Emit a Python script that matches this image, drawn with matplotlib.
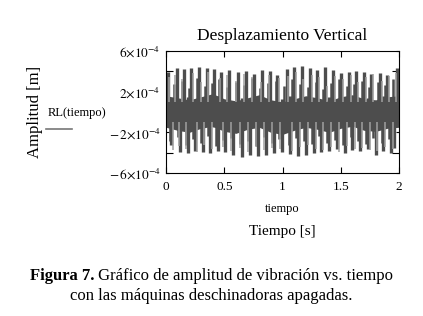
import numpy as np
import matplotlib
matplotlib.use("Agg")
import matplotlib.pyplot as plt

plt.rcParams["font.family"] = ["Liberation Serif", "DejaVu Serif"]
plt.rcParams["mathtext.fontset"] = "stix"

# main spikes (time [s], amplitude in 1e-4 m)
up_t = [0.017, 0.092, 0.155, 0.215, 0.283, 0.349, 0.412, 0.475, 0.541, 0.618,
        0.687, 0.753, 0.827, 0.896, 0.953, 1.036, 1.099, 1.165, 1.236, 1.299,
        1.365, 1.436, 1.505, 1.568, 1.633, 1.700, 1.762, 1.834, 1.899, 1.985]
up_v = [3.9, 4.3, 4.2, 4.3, 4.4, 4.3, 4.2, 3.9, 4.1, 3.9,
        4.0, 3.7, 4.1, 4.0, 3.6, 4.2, 4.4, 4.5, 4.3, 4.1,
        4.4, 4.1, 3.8, 3.9, 4.0, 3.9, 3.7, 3.8, 3.6, 4.3]
up_base = [-1.0, -1.4, -0.8, -1.6, -1.1, -0.9, -1.5, -1.2, -0.7, -1.3,
           -1.6, -1.0, -0.9, -1.4, -1.2, -0.8, -1.5, -1.1, -1.3, -0.9,
           -1.0, -1.6, -1.2, -0.8, -1.4, -1.1, -1.5, -0.9, -1.3, -1.0]
dn_t = [0.045, 0.122, 0.186, 0.248, 0.314, 0.380, 0.443, 0.508, 0.578, 0.652,
        0.720, 0.790, 0.860, 0.925, 0.995, 1.068, 1.132, 1.200, 1.268, 1.332,
        1.400, 1.470, 1.536, 1.600, 1.666, 1.731, 1.798, 1.866, 1.928, 1.960]
dn_v = [-3.2, -3.9, -4.0, -3.8, -3.9, -4.0, -3.8, -3.9, -4.2, -4.4,
        -4.2, -4.3, -4.2, -4.0, -3.9, -4.1, -4.3, -4.2, -4.0, -3.9,
        -3.8, -3.6, -4.0, -3.7, -3.8, -3.6, -4.2, -3.8, -4.0, -3.5]
dn_top = [1.2, 0.8, 1.5, 1.0, 1.3, 0.9, 1.6, 1.1, 0.8, 1.4,
          1.0, 1.5, 1.2, 0.9, 1.3, 1.6, 1.0, 0.8, 1.4, 1.1,
          1.5, 0.9, 1.2, 1.3, 0.8, 1.4, 1.0, 1.6, 1.1, 1.2]
# shorter dark strokes in between
mid_up_t = [0.068, 0.138, 0.200, 0.266, 0.331, 0.396, 0.459, 0.524, 0.598, 0.670,
            0.737, 0.808, 0.878, 0.940, 1.015, 1.083, 1.148, 1.218, 1.284, 1.348,
            1.418, 1.488, 1.552, 1.616, 1.683, 1.746, 1.816, 1.882, 1.945]
mid_up_v = [2.8, 3.1, 2.4, 3.3, 2.6, 2.9, 3.2, 2.5, 3.0, 2.7,
            3.3, 2.4, 2.9, 3.1, 2.6, 3.2, 2.8, 2.5, 3.0, 2.3,
            2.9, 3.2, 2.6, 2.8, 3.1, 2.5, 3.0, 2.7, 3.2]
mid_dn_t = [0.031, 0.107, 0.170, 0.231, 0.298, 0.364, 0.427, 0.491, 0.560, 0.635,
            0.703, 0.771, 0.843, 0.910, 0.974, 1.052, 1.115, 1.182, 1.252, 1.315,
            1.382, 1.453, 1.520, 1.584, 1.650, 1.715, 1.780, 1.850, 1.913]
mid_dn_v = [-2.9, -2.5, -3.2, -2.7, -3.0, -2.4, -3.3, -2.8, -2.6, -3.1,
            -2.9, -3.3, -2.5, -3.0, -2.7, -3.2, -2.6, -2.9, -3.1, -2.4,
            -3.0, -2.8, -3.2, -2.5, -2.9, -3.1, -2.6, -3.0, -2.7]
# lighter grey strokes next to the dark ones
lt_up_t = [0.030, 0.080, 0.140, 0.230, 0.300, 0.362, 0.460, 0.525, 0.600, 0.670,
           0.740, 0.812, 0.880, 0.970, 1.050, 1.115, 1.180, 1.250, 1.315, 1.380,
           1.450, 1.520, 1.585, 1.650, 1.715, 1.780, 1.850, 1.915, 1.975]
lt_up_v = [3.4, 3.6, 3.2, 3.8, 3.0, 3.9, 3.3, 3.6, 3.1, 3.7,
           3.4, 3.0, 3.6, 3.3, 3.5, 3.9, 3.2, 3.6, 3.4, 2.6,
           3.5, 3.2, 3.6, 3.0, 3.4, 3.7, 3.1, 3.5, 3.8]
lt_dn_t = [0.060, 0.110, 0.170, 0.262, 0.330, 0.395, 0.492, 0.560, 0.635, 0.705,
           0.775, 0.845, 0.910, 0.980, 1.085, 1.150, 1.215, 1.285, 1.350, 1.415,
           1.485, 1.552, 1.618, 1.682, 1.748, 1.815, 1.882, 1.945]
lt_dn_v = [-3.7, -3.3, -3.6, -3.9, -3.2, -3.6, -3.4, -3.8, -3.5, -3.9,
           -3.3, -3.7, -3.5, -3.6, -3.8, -3.4, -3.2, -3.6, -3.7, -3.4,
           -3.9, -3.3, -3.6, -3.5, -3.7, -3.8, -3.4, -3.6]
# dense central band
core_t = [0.0, 0.1, 0.2, 0.3, 0.4, 0.5, 0.6, 0.7, 0.8, 0.9, 1.0,
          1.1, 1.2, 1.3, 1.4, 1.5, 1.6, 1.7, 1.8, 1.9, 2.0]
core_hi = [1.6, 1.4, 1.2, 1.5, 1.8, 1.3, 1.1, 1.4, 1.7, 1.2, 1.0,
           1.3, 1.6, 1.4, 1.1, 1.5, 1.7, 1.3, 1.2, 1.5, 1.6]
core_lo = [-1.5, -1.8, -2.0, -1.6, -1.4, -1.9, -2.1, -1.7, -1.5, -2.0, -2.2,
           -1.8, -1.5, -1.7, -2.0, -1.6, -1.4, -1.8, -1.9, -1.6, -1.5]

s = 1e-4
dark = "#4d4d4d"
light = "#a0a0a0"

fig = plt.figure(figsize=(4.23, 3.16), dpi=100)
ax = fig.add_axes([0.3924, 0.4525, 0.551, 0.386])

ax.fill_between(core_t, np.array(core_lo) * s, np.array(core_hi) * s, color=dark, lw=0)
ax.vlines(mid_up_t, -0.5 * s, np.array(mid_up_v) * s, color=dark, lw=1.8)
ax.vlines(mid_dn_t, np.array(mid_dn_v) * s, 0.5 * s, color=dark, lw=1.8)
ax.vlines(up_t, np.array(up_base) * s, np.array(up_v) * s, color=dark, lw=2.4)
ax.vlines(dn_t, np.array(dn_v) * s, np.array(dn_top) * s, color=dark, lw=2.4)
ax.vlines(lt_up_t, 1.0 * s, np.array(lt_up_v) * s, color=light, lw=1.1)
ax.vlines(lt_dn_t, np.array(lt_dn_v) * s, -1.0 * s, color=light, lw=1.1)

ax.set_xlim(0, 2)
ax.set_ylim(-6e-4, 6e-4)
ax.set_xticks([0, 0.5, 1, 1.5, 2])
ax.set_xticklabels(["0", "0.5", "1", "1.5", "2"])
ax.set_yticks([-6e-4, -2e-4, 2e-4, 6e-4])
ax.set_yticklabels([r"$-\,6{\times}10^{-4}$", r"$-\,2{\times}10^{-4}$",
                    r"$2{\times}10^{-4}$", r"$6{\times}10^{-4}$"])
ax.tick_params(axis="both", direction="in", labelsize=9.5, top=True, right=True,
               length=4, width=0.8)
ax.tick_params(axis="x", pad=6)
ax.tick_params(axis="y", length=2, pad=4)
ax.set_yticks([-4e-4, 4e-4], minor=True)
ax.tick_params(axis="y", which="minor", direction="in", length=5, width=0.8,
               right=True)
for sp in ax.spines.values():
    sp.set_linewidth(0.8)

ax.set_title("Desplazamiento Vertical", fontsize=12.5, pad=8)
ax.set_xlabel("tiempo", fontsize=9, labelpad=7)

fig.text(0.6678, 0.266, "Tiempo [s]", fontsize=11, ha="center", va="center")
fig.text(0.082, 0.645, "Amplitud [m]", fontsize=12, rotation=90, ha="center", va="center")
fig.text(0.113, 0.642, "RL(tiempo)", fontsize=9, ha="left", va="center")
fig.add_artist(plt.Line2D([0.109, 0.170], [0.593, 0.593], color="#777777", lw=1.2))

# caption: bold lead-in followed by regular text
fig.canvas.draw()
r = fig.canvas.get_renderer()
lead = fig.text(0.066, 0.126, "Figura 7.", fontsize=12, weight="bold", ha="left", va="center")
rest = fig.text(0, 0.126, " Gráfico de amplitud de vibración vs. tiempo",
                fontsize=12, ha="left", va="center")
w1 = lead.get_window_extent(r).width / fig.bbox.width
w2 = rest.get_window_extent(r).width / fig.bbox.width
x0 = 0.5 - (w1 + w2) / 2
lead.set_x(x0)
rest.set_x(x0 + w1)
fig.text(0.5, 0.062, "con las máquinas deschinadoras apagadas.",
         fontsize=12, ha="center", va="center")

fig.savefig("out.png", dpi=100)
